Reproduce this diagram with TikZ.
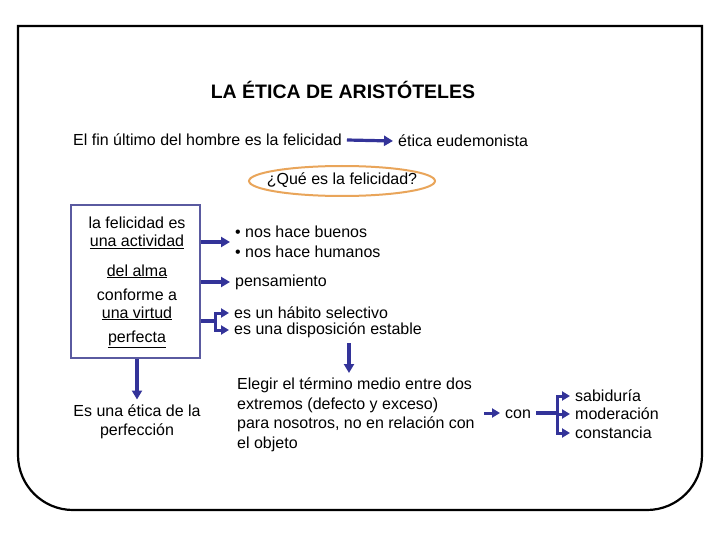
\documentclass[tikz,border=0pt]{standalone}
\usepackage{fontspec}
\setmainfont{Liberation Sans}
\usetikzlibrary{arrows.meta,shapes.geometric}
\definecolor{navy}{RGB}{51,51,153}
\definecolor{boxc}{RGB}{90,90,160}
\definecolor{orng}{RGB}{233,165,90}
\begin{document}
\begin{tikzpicture}[x=1pt,y=-1pt,
  txt/.style={font=\fontsize{16}{19.5}\selectfont, inner sep=5pt},
  ttl/.style={font=\fontsize{19.5}{22}\selectfont\bfseries, inner sep=0pt},
  arr/.style={draw=navy, line width=3.2pt, -{Triangle[length=9pt,width=10pt]}},
  arrs/.style={draw=navy, line width=3pt, -{Triangle[length=8pt,width=9pt]}},
  lin/.style={draw=navy, line width=3.2pt},
]
\useasboundingbox (0,0) rectangle (720,540);
\fill[white] (0,0) rectangle (720,540);
% frame
\draw[line width=2.2pt] (18,26) -- (702,26) {[rounded corners=55pt] -- (702,510) -- (18,510)} -- cycle;

\node[ttl] (title) at (343,90) {LA ÉTICA DE ARISTÓTELES};
\node[txt, anchor=west] (fin) at (68,140) {El fin último del hombre es la felicidad};
\node[txt, anchor=west] (eud) at (393,141) {ética eudemonista};
\draw[arr] (fin.east) -- (eud.west);

\node[txt] (q) at (342,180) {¿Qué es la felicidad?};
\draw[orng, line width=2pt] (q.center) ++(0,1) ellipse [x radius=93, y radius=15];

% box
\node[draw=boxc, line width=2pt, minimum width=129pt, minimum height=153pt, inner sep=0pt] (box) at (135.5,281.5) {};
\node[txt, anchor=base, inner sep=0pt] (b1) at (137,229) {la felicidad es};
\node[txt, anchor=base, inner sep=0pt] (b2) at (137,247) {\underline{una actividad}};
\node[txt, anchor=base, inner sep=0pt] (b3) at (137,276) {\underline{del alma}};
\node[txt, anchor=base, inner sep=0pt] (b4) at (137,300) {conforme a};
\node[txt, anchor=base, inner sep=0pt] (b5) at (137,318) {\underline{una virtud}};
\node[txt, anchor=base, inner sep=0pt] (b6) at (137,342) {\underline{perfecta}};

\node[txt, anchor=west, align=left] (bue) at (230,242) {• nos hace buenos\\• nos hace humanos};
\node[txt, anchor=west] (pen) at (230,282) {pensamiento};
\node[txt, anchor=west] (hab) at (229,313) {es un hábito selectivo};
\node[txt, anchor=west] (dis) at (229,330) {es una disposición estable};

\draw[arr] (box.east |- bue.west) -- (bue.west);
\draw[arr] (box.east |- pen.west) -- (pen.west);
\coordinate (f1) at (215,321);
\draw[lin] (box.east |- f1) -- (f1);
\draw[arrs] (f1) |- (hab.west);
\draw[arrs] (f1) |- (dis.west);

% lower
\node[txt, align=center] (per) at (137,422) {Es una ética de la\\perfección};
\draw[arr] (box.south -| per) -- (per.north);

\node[txt, anchor=west, align=left] (ele) at (232,415) {Elegir el término medio entre dos\\extremos (defecto y exceso)\\para nosotros, no en relación con\\el objeto};
\coordinate (d1) at (349,343);
\draw[arr] (d1) -- (d1 |- ele.north);

\node[txt, anchor=west] (con) at (500,414) {con};
\coordinate (c0) at (484,413);
\draw[arrs] (c0) -- (c0 -| con.west);

\node[txt, anchor=west] (sab) at (570,396) {sabiduría};
\node[txt, anchor=west] (mod) at (570,414) {moderación};
\node[txt, anchor=west] (cst) at (570,433) {constancia};
\coordinate (f2) at (557,413);
\draw[lin] (con.east |- f2) -- (f2);
\draw[arrs] (f2) |- (sab.west);
\draw[arrs] (f2) -- (f2 |- mod.west) -- (mod.west);
\draw[arrs] (f2) |- (cst.west);
\end{tikzpicture}
\end{document}
